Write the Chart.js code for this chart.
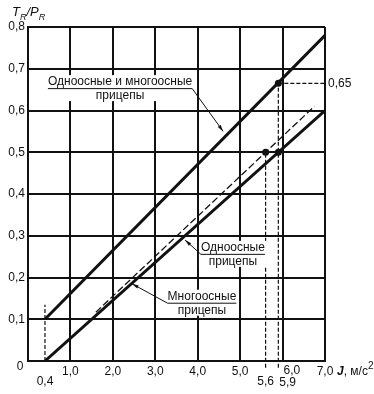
<!DOCTYPE html>
<html lang="ru">

<head>
    <meta charset="UTF-8">
    <style>
        body {
            margin: 0;
            background-color: white;
        }
    </style>
    <title>Chart</title>
</head>

<body>
    <canvas id="myChart" width="374" height="394"></canvas>
    <script src="https://cdn.jsdelivr.net/npm/chart.js"></script>
    <script>
        // chart data
        const upperLine = [{ x: 0.4, y: 0.1 }, { x: 7.0, y: 0.78 }];     // single + multi axle
        const lowerLine = [{ x: 0.4, y: 0.0 }, { x: 7.0, y: 0.6 }];      // solid lower line
        const dashedLine = [{ x: 1.6, y: 0.117 }, { x: 6.75, y: 0.61 }]; // thin dashed line
        const markPoints = [{ x: 5.6, y: 0.5 }, { x: 5.9, y: 0.5 }, { x: 5.9, y: 0.665 }];

        // dashed guide lines
        const guide04 = [{ x: 0.4, y: 0 }, { x: 0.4, y: 0.135 }];
        const guide56 = [{ x: 5.6, y: -0.016 }, { x: 5.6, y: 0.5 }];
        const guide59 = [{ x: 5.9, y: -0.016 }, { x: 5.9, y: 0.665 }];
        const guide065 = [{ x: 5.9, y: 0.665 }, { x: 7.0, y: 0.665 }];

        const xTicks = [0, 1, 2, 3, 4, 5, 6, 7];
        const yTicks = [0, 0.1, 0.2, 0.3, 0.4, 0.5, 0.6, 0.7, 0.8];
        const extraXLabels = [{ x: 0.4, text: '0,4' }, { x: 5.6, text: '5,6' }, { x: 5.9, text: '5,9' }];

        const fmt = v => v.toFixed(1).replace('.', ',');
        const FONT = '"Liberation Sans", Arial, sans-serif';

        Chart.defaults.font.family = FONT;
        Chart.defaults.font.size = 12;
        Chart.defaults.color = '#111';

        function guide(data) {
            return {
                data: data,
                showLine: true,
                borderColor: '#111',
                borderWidth: 1.2,
                borderDash: [4, 2],
                pointRadius: 0,
                clip: false
            };
        }

        // labels, leaders and extra text
        const extrasPlugin = {
            id: 'extras',
            afterDraw(chart) {
                const c = chart.ctx;
                const xs = chart.scales.x, ys = chart.scales.y;
                const X = v => xs.getPixelForValue(v);
                const Y = v => ys.getPixelForValue(v);
                c.save();
                c.fillStyle = '#111';
                c.strokeStyle = '#111';

                // "0" at origin and "6,0" shifted right
                c.font = '12px ' + FONT;
                c.textBaseline = 'middle';
                c.textAlign = 'center';
                c.fillText('0', 20, Y(0) + 6);
                c.textAlign = 'left';
                c.fillText('6,0', X(6) + 1, chart.chartArea.bottom + 10);

                // extra x labels under the axis
                extraXLabels.forEach(l => {
                    if (l.text === '5,9') {
                        c.textAlign = 'left';
                        c.fillText(l.text, X(l.x) + 1, chart.chartArea.bottom + 22);
                    } else {
                        c.textAlign = 'center';
                        c.fillText(l.text, X(l.x), chart.chartArea.bottom + 21);
                    }
                });

                // 0,65 on the right
                c.textAlign = 'left';
                c.fillText('0,65', chart.chartArea.right + 3, Y(0.665));

                // y axis title T_R/P_R
                let x = 12, y = 16;
                c.textAlign = 'left';
                c.textBaseline = 'alphabetic';
                c.font = 'italic 13px ' + FONT; c.fillText('T', x, y); x += c.measureText('T').width;
                c.font = 'italic 9px ' + FONT; c.fillText('R', x, y + 4); x += c.measureText('R').width;
                c.font = 'italic 13px ' + FONT; c.fillText('/P', x, y); x += c.measureText('/P').width;
                c.font = 'italic 9px ' + FONT; c.fillText('R', x, y + 4);

                // x axis title J, м/с²
                x = chart.chartArea.right + 12; y = chart.chartArea.bottom + 14;
                c.font = 'italic bold 12px ' + FONT; c.fillText('J', x, y); x += c.measureText('J').width;
                c.font = '12px ' + FONT; c.fillText(', м/с', x, y); x += c.measureText(', м/с').width;
                c.font = '10px ' + FONT; c.fillText('2', x, y - 6);

                // callout labels
                function callout(lines, cx, cy, side, tipX, tipY) {
                    c.font = '12px ' + FONT;
                    const w = Math.max(...lines.map(t => c.measureText(t).width));
                    const w0 = c.measureText(lines[0]).width;
                    c.fillStyle = 'white';
                    c.fillRect(cx - w / 2 - 2, cy - 7, w + 4, 26);
                    c.fillStyle = '#111';
                    c.textAlign = 'center';
                    c.textBaseline = 'middle';
                    c.fillText(lines[0], cx, cy);
                    c.fillText(lines[1], cx, cy + 14);
                    // underline
                    const uy = cy + 6.5;
                    c.lineWidth = 1;
                    c.beginPath();
                    c.moveTo(cx - w0 / 2, uy);
                    c.lineTo(cx + w0 / 2, uy);
                    const sx = side === 'right' ? cx + w0 / 2 : cx - w0 / 2;
                    c.moveTo(sx, uy);
                    c.lineTo(tipX, tipY);
                    c.stroke();
                    // arrow head
                    const a = Math.atan2(tipY - uy, tipX - sx);
                    c.beginPath();
                    c.moveTo(tipX, tipY);
                    c.lineTo(tipX - 7 * Math.cos(a - 0.25), tipY - 7 * Math.sin(a - 0.25));
                    c.lineTo(tipX - 7 * Math.cos(a + 0.25), tipY - 7 * Math.sin(a + 0.25));
                    c.closePath();
                    c.fill();
                }
                callout(['Одноосные и многоосные', 'прицепы'], X(2.17), Y(0.668), 'right', X(4.6), Y(0.55));
                callout(['Одноосные', 'прицепы'], X(4.83), Y(0.271), 'left', X(3.7), Y(0.29));
                callout(['Многоосные', 'прицепы'], X(4.1), Y(0.154), 'left', X(2.45), Y(0.185));
                c.restore();
            }
        };

        const ctx = document.getElementById('myChart');

        new Chart(ctx, {
            type: 'scatter',
            data: {
                datasets: [
                    guide(guide04),
                    guide(guide56),
                    guide(guide59),
                    guide(guide065),
                    {
                        data: upperLine,
                        showLine: true,
                        borderColor: '#111',
                        borderWidth: 3,
                        pointRadius: 0
                    },
                    {
                        data: lowerLine,
                        showLine: true,
                        borderColor: '#111',
                        borderWidth: 3,
                        pointRadius: 0
                    },
                    {
                        data: dashedLine,
                        showLine: true,
                        borderColor: '#111',
                        borderWidth: 1.3,
                        borderDash: [7, 3],
                        pointRadius: 0
                    },
                    {
                        data: markPoints,
                        showLine: false,
                        pointRadius: 3.5,
                        pointBackgroundColor: '#111',
                        pointBorderWidth: 0
                    }
                ]
            },
            options: {
                responsive: false,
                animation: false,
                layout: {
                    padding: { top: 27, right: 49, left: 0, bottom: 0 }
                },
                plugins: {
                    legend: { display: false },
                    tooltip: { enabled: false }
                },
                scales: {
                    x: {
                        type: 'linear',
                        min: 0,
                        max: 7,
                        afterFit: s => { s.height = 33; },
                        afterBuildTicks: s => { s.ticks = xTicks.map(v => ({ value: v })); },
                        grid: { color: '#111', lineWidth: 2, drawTicks: false },
                        border: { color: '#111', width: 2 },
                        ticks: {
                            padding: 3,
                            maxRotation: 0,
                            callback: v => (v === 0 || v === 6) ? '' : fmt(v)
                        }
                    },
                    y: {
                        type: 'linear',
                        min: 0,
                        max: 0.8,
                        afterFit: s => { s.width = 28; },
                        afterBuildTicks: s => { s.ticks = yTicks.map(v => ({ value: v })); },
                        grid: { color: '#111', lineWidth: 2, drawTicks: false },
                        border: { color: '#111', width: 2 },
                        ticks: {
                            padding: 3,
                            callback: v => v === 0 ? '' : fmt(v)
                        }
                    }
                }
            },
            plugins: [extrasPlugin]
        });
    </script>
</body>

</html>
